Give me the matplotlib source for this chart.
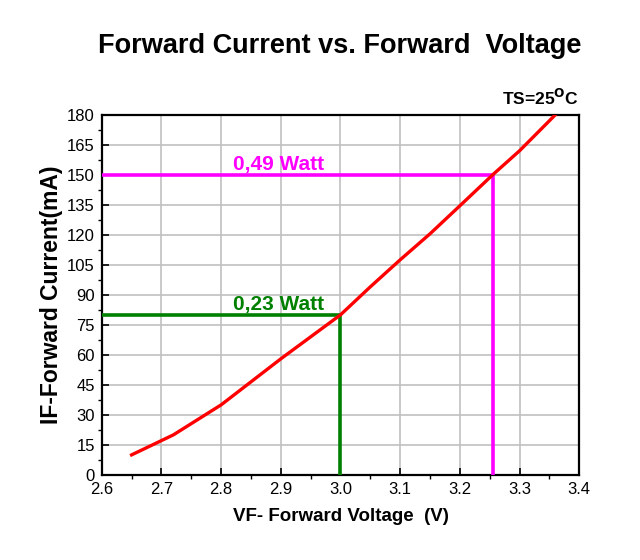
import matplotlib
matplotlib.use('Agg')
import matplotlib.pyplot as plt
from matplotlib.ticker import MultipleLocator

plt.rcParams['font.family'] = ['Liberation Sans', 'DejaVu Sans']

# forward voltage (V) / forward current (mA)
vf = [2.65, 2.72, 2.80, 2.90, 2.95, 3.00, 3.05, 3.10, 3.15, 3.20, 3.255, 3.30, 3.36]
i_f = [10, 20, 35, 58, 69, 80, 94, 107.5, 120.5, 134.5, 150, 162, 180]

# operating points
op_v = [3.0, 3.255]
op_i = [80, 150]
op_labels = ['0,23 Watt', '0,49 Watt']
op_colors = ['#008000', '#ff00ff']

fig = plt.figure(figsize=(6.4, 5.6), dpi=100)
ax = fig.add_axes([0.159, 0.152, 0.746, 0.643])

ax.plot(vf, i_f, color='#ff0000', lw=2.4, zorder=4)

for v, i, lab, c in zip(op_v, op_i, op_labels, op_colors):
    ax.plot([2.6, v, v], [i, i, 0], color=c, lw=2.6, zorder=3, solid_joinstyle='miter')
    ax.text(2.82, i + 2.5, lab, color=c, fontsize=15, fontweight='bold', va='baseline', ha='left')

ax.set_xlim(2.6, 3.4)
ax.set_ylim(0, 180)
ax.xaxis.set_major_locator(MultipleLocator(0.1))
ax.xaxis.set_minor_locator(MultipleLocator(0.05))
ax.yaxis.set_major_locator(MultipleLocator(15))
ax.yaxis.set_minor_locator(MultipleLocator(7.5))
ax.set_xticklabels([f'{t:.1f}' for t in ax.get_xticks()])
ax.tick_params(which='major', direction='in', length=5, width=1.2, labelsize=12, pad=5)
ax.tick_params(which='minor', direction='out', length=3, width=1)
ax.grid(True, which='major', color='#c0c0c0', lw=1.2, zorder=0)
ax.set_axisbelow(True)
for s in ax.spines.values():
    s.set_linewidth(1.6)

ax.set_xlabel('VF- Forward Voltage  (V)', fontsize=13.5, fontweight='bold', labelpad=8)
ax.set_ylabel('IF-Forward Current(mA)', fontsize=16.5, fontweight='bold', labelpad=3)

fig.text(0.53, 0.917, 'Forward Current vs. Forward  Voltage', fontsize=19.5,
         fontweight='bold', ha='center', va='center')
fig.text(0.905, 0.825, r'TS=25$^{\mathbf{O}}$C', fontsize=12.5, fontweight='bold',
         ha='right', va='center')

fig.savefig('out.png', dpi=100)
